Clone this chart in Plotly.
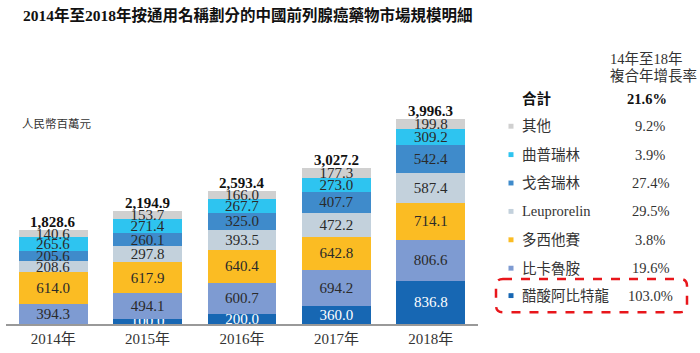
import plotly.graph_objects as go

years = ["2014年", "2015年", "2016年", "2017年", "2018年"]
series_names = ["醋酸阿比特龍", "比卡魯胺", "多西他賽", "Leuprorelin", "戈舍瑞林", "曲普瑞林", "其他"]
abiraterone = [0.0, 100.0, 200.0, 360.0, 836.8]
bicalutamide = [394.3, 494.1, 600.7, 694.2, 806.6]
docetaxel = [614.0, 617.9, 640.4, 642.8, 714.1]
leuprorelin = [208.6, 297.8, 393.5, 472.2, 587.4]
goserelin = [205.6, 260.1, 325.0, 407.7, 542.4]
triptorelin = [265.6, 271.4, 267.7, 273.0, 309.2]
others = [140.6, 153.7, 166.0, 177.3, 199.8]
totals = [1828.6, 2194.9, 2593.4, 3027.2, 3996.3]
cagr = ["103.0%", "19.6%", "3.8%", "29.5%", "27.4%", "3.9%", "9.2%"]
total_cagr = "21.6%"
colors = ["#1767b3", "#7e9bd2", "#fbbc23", "#c3d1dc", "#3f8bcb", "#2ec4f0", "#d0d0d0"]
text_colors = ["#ffffff", "#2a2a2a", "#2a2a2a", "#2a2a2a", "#2a2a2a", "#2a2a2a", "#2a2a2a"]

values = [abiraterone, bicalutamide, docetaxel, leuprorelin, goserelin, triptorelin, others]

SERIF = "Liberation Serif, Noto Sans CJK TC, serif"

W, H = 700, 353
ML, MR, MT, MB = 6, 222, 90, 24
PL, PR, PT, PB = ML, W - MR, MT, H - MB
YMAX = (PB - PT) / 0.0525


def px(x):
    return (x - PL) / (PR - PL)


def py(y):
    return (PB - y) / (PB - PT)


fig = go.Figure()
for name, vals, col, tcol in zip(series_names, values, colors, text_colors):
    fig.add_trace(go.Bar(
        x=years, y=vals, name=name,
        marker=dict(color=col, line=dict(width=0)),
        text=[f"{v:.1f}" if v > 0 else "" for v in vals],
        textposition="inside", insidetextanchor="middle", textangle=0,
        textfont=dict(family=SERIF, size=15, color=tcol),
        cliponaxis=False,
        hoverinfo="skip",
    ))

annotations = []
for yr, t in zip(years, totals):
    annotations.append(dict(
        x=yr, y=t, xref="x", yref="y", text=f"<b>{t:,.1f}</b>",
        showarrow=False, yanchor="bottom", yshift=-2,
        font=dict(family=SERIF, size=15, color="#111111"),
    ))

# Title
annotations.append(dict(
    x=px(248), y=py(13), xref="paper", yref="paper", xanchor="center", yanchor="middle",
    text="<b>2014年至2018年按通用名稱劃分的中國前列腺癌藥物市場規模明細</b>",
    showarrow=False, font=dict(family=SERIF, size=15.5, color="#111111"),
))
# Unit
annotations.append(dict(
    x=px(20), y=py(125), xref="paper", yref="paper", xanchor="left", yanchor="middle",
    text="人民幣百萬元", showarrow=False, font=dict(family=SERIF, size=11.5, color="#333333"),
))
# Header
annotations.append(dict(
    x=px(608), y=py(58), xref="paper", yref="paper", xanchor="left", yanchor="middle",
    text="14年至18年", showarrow=False, font=dict(family=SERIF, size=14.5, color="#333333"),
))
annotations.append(dict(
    x=px(608), y=py(76), xref="paper", yref="paper", xanchor="left", yanchor="middle",
    text="複合年增長率", showarrow=False, font=dict(family=SERIF, size=14.5, color="#333333"),
))
annotations.append(dict(
    x=px(520), y=py(99), xref="paper", yref="paper", xanchor="left", yanchor="middle",
    text="<b>合計</b>", showarrow=False, font=dict(family=SERIF, size=14.5, color="#111111"),
))
annotations.append(dict(
    x=px(647), y=py(99), xref="paper", yref="paper", xanchor="center", yanchor="middle",
    text=f"<b>{total_cagr}</b>", showarrow=False, font=dict(family=SERIF, size=14.5, color="#111111"),
))

shapes = []
row_y = [127, 156, 185, 214, 243, 272, 300]
order = list(range(len(series_names)))[::-1]
for ry, i in zip(row_y, order):
    annotations.append(dict(
        x=px(520), y=py(ry), xref="paper", yref="paper", xanchor="left", yanchor="middle",
        text=series_names[i], showarrow=False, font=dict(family=SERIF, size=14.5, color="#333333"),
    ))
    annotations.append(dict(
        x=px(650), y=py(ry), xref="paper", yref="paper", xanchor="center", yanchor="middle",
        text=cagr[i], showarrow=False, font=dict(family=SERIF, size=14.5, color="#333333"),
    ))
    shapes.append(dict(
        type="rect", xref="paper", yref="paper",
        x0=px(508.5), x1=px(513.5), y0=py(ry + 2.5), y1=py(ry - 2.5),
        fillcolor=colors[i], line=dict(width=0),
    ))

# Dashed rounded highlight box
x0, x1, y0, y1, r = 496, 687, 283, 317, 7
rx, ry_ = r / (PR - PL), r / (PB - PT)
X0, X1, Y0, Y1 = px(x0), px(x1), py(y1), py(y0)
path = (f"M {X0+rx},{Y1} L {X1-rx},{Y1} Q {X1},{Y1} {X1},{Y1-ry_} "
        f"L {X1},{Y0+ry_} Q {X1},{Y0} {X1-rx},{Y0} L {X0+rx},{Y0} "
        f"Q {X0},{Y0} {X0},{Y0+ry_} L {X0},{Y1-ry_} Q {X0},{Y1} {X0+rx},{Y1} Z")
shapes.append(dict(type="path", xref="paper", yref="paper", path=path,
                   line=dict(color="#e8161b", width=2.5, dash="dash")))

fig.update_layout(
    width=W, height=H,
    margin=dict(l=ML, r=MR, t=MT, b=MB, pad=0),
    barmode="stack", bargap=0.27,
    showlegend=False,
    plot_bgcolor="white", paper_bgcolor="white",
    uniformtext=dict(minsize=15, mode="show"),
    xaxis=dict(showline=True, linecolor="#999999", linewidth=2, ticks="",
               tickfont=dict(family=SERIF, size=15, color="#333333"),
               showgrid=False, zeroline=False, fixedrange=True),
    yaxis=dict(visible=False, range=[0, YMAX], showgrid=False, zeroline=False),
    annotations=annotations,
    shapes=shapes,
)

fig.write_html("out.html")
